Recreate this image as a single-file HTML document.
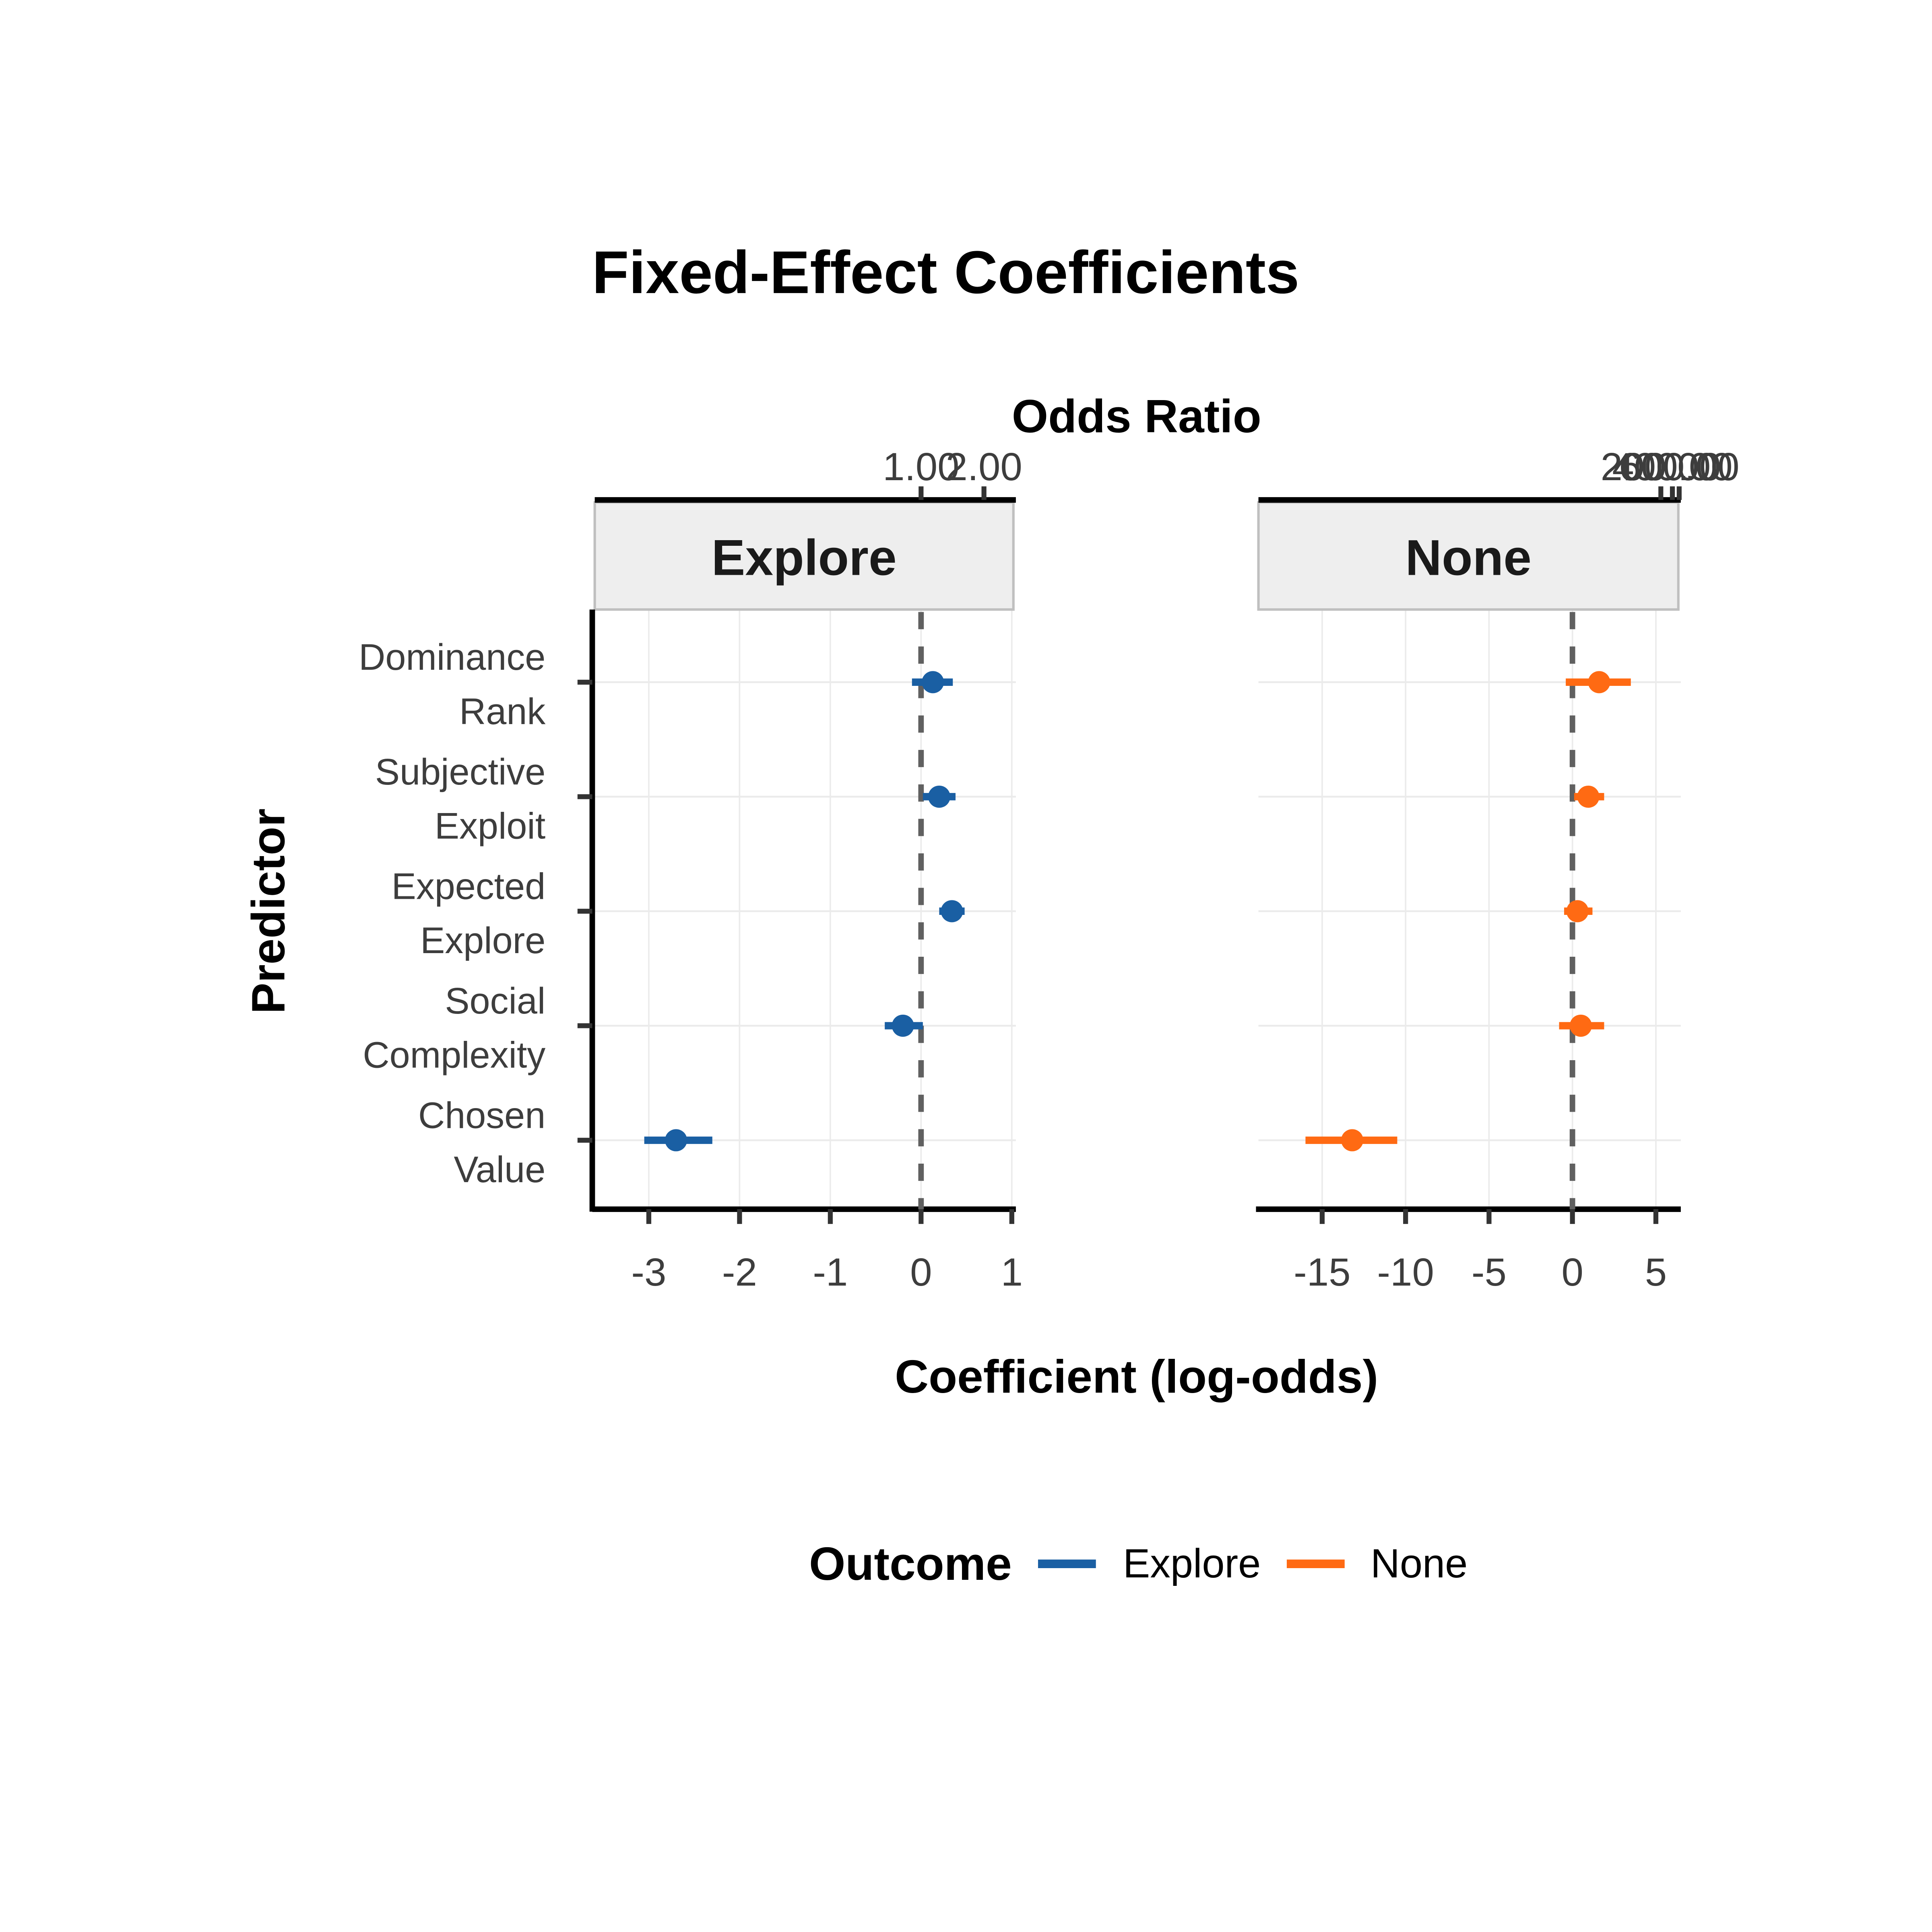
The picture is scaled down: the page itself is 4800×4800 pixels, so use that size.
<!DOCTYPE html>
<html><head><meta charset="utf-8"><style>
html,body{margin:0;padding:0;background:#fff}
svg{display:block}
text{font-family:"Liberation Sans",Arial,sans-serif}
</style></head><body>
<svg id="chart" width="4800" height="4800" viewBox="0 0 1569 1569" xmlns="http://www.w3.org/2000/svg">
<rect width="1569" height="1569" fill="#fff"/>
<text x="768" y="238" font-size="49" font-weight="bold" text-anchor="middle">Fixed-Effect Coefficients</text>
<text x="923" y="351" font-size="38" font-weight="bold" text-anchor="middle">Odds Ratio</text>
<text x="923" y="1131" font-size="38" font-weight="bold" text-anchor="middle">Coefficient (log-odds)</text>
<text transform="translate(231,740) rotate(-90)" font-size="38" font-weight="bold" text-anchor="middle">Predictor</text>
<g id="plot"></g>
<g>
<text x="657" y="1283" font-size="38" font-weight="bold">Outcome</text>
<line x1="843" x2="890" y1="1270" y2="1270" stroke="#1a5fa3" stroke-width="7"/>
<text x="912" y="1281" font-size="33">Explore</text>
<line x1="1045" x2="1092" y1="1270" y2="1270" stroke="#ff6a13" stroke-width="7"/>
<text x="1113" y="1281" font-size="33">None</text>
</g>
</svg>
<script>
const predictors = ["Dominance Rank","Subjective Exploit","Expected Explore","Social Complexity","Chosen Value"];
const exploreEst = [0.13, 0.20, 0.34, -0.20, -2.70];
const exploreLo = [-0.10, 0.02, 0.20, -0.40, -3.05];
const exploreHi = [0.35, 0.38, 0.48, 0.02, -2.30];
const noneEst = [1.6, 0.95, 0.3, 0.5, -13.2];
const noneLo = [-0.4, 0.1, -0.5, -0.8, -16.0];
const noneHi = [3.5, 1.9, 1.2, 1.9, -10.5];
const exploreTicks = [-3, -2, -1, 0, 1];
const noneTicks = [-15, -10, -5, 0, 5];
const exploreOR = [1, 2];
const noneOR = [200, 400, 600];

const NS = "http://www.w3.org/2000/svg";
const plot = document.getElementById("plot");
function mk(tag, attrs, parent, txt) {
  const e = document.createElementNS(NS, tag);
  for (const k in attrs) e.setAttribute(k, attrs[k]);
  if (txt !== undefined) e.textContent = txt;
  (parent || plot).appendChild(e);
  return e;
}
const top0 = 495, bot0 = 982;
function yRow(i) { return 554 + i * 93; }

const panels = [
  {name: "explore", label: "Explore", x0: 483, x1: 823, zero: 748, unit: 73.7, est: exploreEst, lo: exploreLo, hi: exploreHi, ticks: exploreTicks, or: exploreOR, color: "#1a5fa3"},
  {name: "none", label: "None", x0: 1022, x1: 1363, zero: 1277, unit: 13.55, est: noneEst, lo: noneLo, hi: noneHi, ticks: noneTicks, or: noneOR, color: "#ff6a13"}
];

panels.forEach((p, pi) => {
  const xs = v => p.zero + v * p.unit;
  const g = mk("g", {});
  
  
  p.ticks.forEach(t => {
    const l = mk("line", {x1: xs(t), x2: xs(t), y1: top0, y2: bot0, stroke: "#ebebeb", "stroke-width": 1.2}, g);
    
    
  });
  predictors.forEach((_, i) => {
    const l = mk("line", {x1: p.x0, x2: p.x1 + 2, y1: yRow(i), y2: yRow(i), stroke: "#ebebeb", "stroke-width": 1.5}, g);
    
    
  });
  const s = mk("rect", {x: p.x0, y: 408, width: p.x1 - p.x0, height: 87, fill: "#eeeeee", stroke: "#bfbfbf", "stroke-width": 2}, g);
  
  
  const st = mk("text", {x: (p.x0 + p.x1) / 2, y: 467, "font-size": 41, "font-weight": "bold", "text-anchor": "middle", fill: "#1a1a1a"}, g, p.label);
  
  
  const ta = mk("line", {x1: p.x0, x2: p.x1 + 2, y1: 406, y2: 406, stroke: "#000", "stroke-width": 4.5}, g);
  
  
  p.or.forEach(v => {
    const x = xs(Math.log(v));
    const tk = mk("line", {x1: x, x2: x, y1: 395, y2: 406, stroke: "#333", "stroke-width": 4}, g);
    
    
    const tl = mk("text", {x: x, y: 390, "font-size": 32, "text-anchor": "middle", fill: "#3d3d3d"}, g, v.toFixed(2));
    
    
  });
  const ba = mk("line", {x1: p.x0 - 2, x2: p.x1 + 2, y1: bot0, y2: bot0, stroke: "#000", "stroke-width": 4.5}, g);
  
  
  p.ticks.forEach(t => {
    const tk = mk("line", {x1: xs(t), x2: xs(t), y1: bot0, y2: bot0 + 12, stroke: "#333", "stroke-width": 4}, g);
    
    
    const tl = mk("text", {x: xs(t), y: 1044, "font-size": 32, "text-anchor": "middle", fill: "#3d3d3d"}, g, String(t));
    
    
  });
  const zl = mk("line", {x1: xs(0), x2: xs(0), y1: top0, y2: bot0, stroke: "#606060", "stroke-width": 4.5, "stroke-dasharray": "14 14", "stroke-dashoffset": "-2"}, g);
  
  
  predictors.forEach((name, i) => {
    const y = yRow(i);
    const eb = mk("line", {x1: xs(p.lo[i]), x2: xs(p.hi[i]), y1: y, y2: y, stroke: p.color, "stroke-width": 6}, g);
    
    
    const pt = mk("circle", {cx: xs(p.est[i]), cy: y, r: 9, fill: p.color}, g);
    
    
  });
  if (pi === 0) {
    const ya = mk("line", {x1: 481, x2: 481, y1: top0, y2: bot0 + 2, stroke: "#000", "stroke-width": 4.5}, g);
    
    
    predictors.forEach((name, i) => {
      const y = yRow(i);
      const tk = mk("line", {x1: 469, x2: 481, y1: y, y2: y, stroke: "#333", "stroke-width": 4}, g);
      
      
      const parts = name.split(" ");
      const t = mk("text", {x: 443, y: y - 10, "font-size": 30, "text-anchor": "end", fill: "#3d3d3d"}, g);
      
      
      mk("tspan", {x: 443, dy: 0}, t, parts[0]);
      mk("tspan", {x: 443, dy: 44}, t, parts[1]);
    });
  }
});
</script>
</body></html>
